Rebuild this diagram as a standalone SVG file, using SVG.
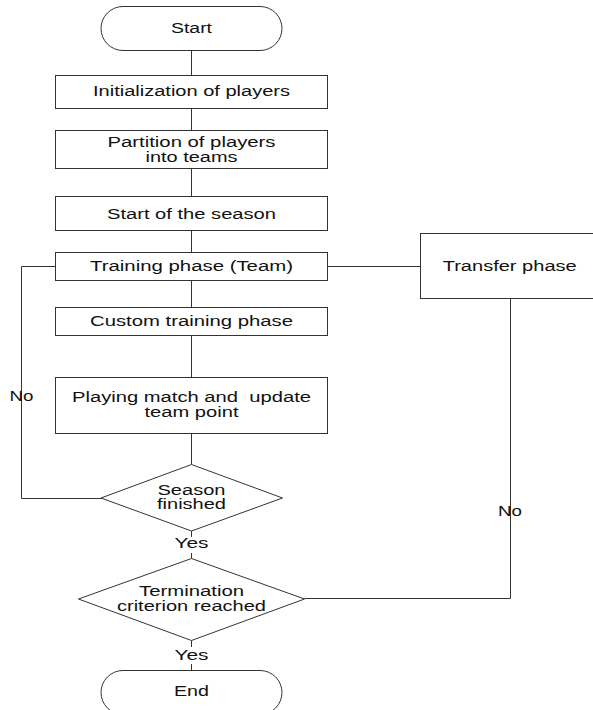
<svg xmlns="http://www.w3.org/2000/svg" width="593" height="710" viewBox="0 0 593 710">
<style>
.s{fill:#fff;stroke:#333;stroke-width:1}
.c{fill:none;stroke:#333;stroke-width:1}
text{font-family:"Liberation Sans",Arial,sans-serif;font-size:14px;fill:#111;text-anchor:middle}
</style>
<rect width="593" height="710" fill="#fff"/>
<g id="connectors">
<line class="c" x1="191.5" y1="50.5" x2="191.5" y2="75.5"/>
<line class="c" x1="191.5" y1="108.5" x2="191.5" y2="130.5"/>
<line class="c" x1="191.5" y1="168.5" x2="191.5" y2="196.5"/>
<line class="c" x1="191.5" y1="230.5" x2="191.5" y2="252.5"/>
<line class="c" x1="191.5" y1="280.5" x2="191.5" y2="307.5"/>
<line class="c" x1="191.5" y1="335.5" x2="191.5" y2="377.5"/>
<line class="c" x1="191.5" y1="433.5" x2="191.5" y2="464.5"/>
<line class="c" x1="191.5" y1="531" x2="191.5" y2="537"/>
<line class="c" x1="191.5" y1="553" x2="191.5" y2="558.5"/>
<line class="c" x1="191.5" y1="640.5" x2="191.5" y2="647"/>
<line class="c" x1="191.5" y1="664" x2="191.5" y2="670.5"/>
<polyline class="c" points="101,498.5 21.5,498.5 21.5,266.5 55.5,266.5"/>
<line class="c" x1="327.5" y1="266.5" x2="420.5" y2="266.5"/>
<polyline class="c" points="510.5,298.5 510.5,598.5 304.5,598.5"/>
<text x="21.5" y="401" textLength="24" lengthAdjust="spacingAndGlyphs">No</text>
<text x="510" y="516" textLength="24" lengthAdjust="spacingAndGlyphs">No</text>
<text x="191.5" y="548" textLength="34" lengthAdjust="spacingAndGlyphs">Yes</text>
<text x="191.5" y="659.5" textLength="34" lengthAdjust="spacingAndGlyphs">Yes</text>
</g>
<g id="start">
<rect class="s" x="101" y="6.5" width="181" height="44" rx="22" ry="22"/>
<text x="191.5" y="32.5" textLength="41" lengthAdjust="spacingAndGlyphs">Start</text>
</g>
<g id="init">
<rect class="s" x="55.5" y="75.5" width="272" height="33"/>
<text x="191.5" y="96" textLength="197" lengthAdjust="spacingAndGlyphs">Initialization of players</text>
</g>
<g id="partition">
<rect class="s" x="55.5" y="130.5" width="272" height="38"/>
<text x="191.5" y="147" textLength="168" lengthAdjust="spacingAndGlyphs">Partition of players</text>
<text x="191.5" y="162" textLength="92" lengthAdjust="spacingAndGlyphs">into teams</text>
</g>
<g id="season-start">
<rect class="s" x="55.5" y="196.5" width="272" height="34"/>
<text x="191.5" y="218.5" textLength="169" lengthAdjust="spacingAndGlyphs">Start of the season</text>
</g>
<g id="training">
<rect class="s" x="55.5" y="252.5" width="272" height="28"/>
<text x="191.5" y="271" textLength="203" lengthAdjust="spacingAndGlyphs">Training phase (Team)</text>
</g>
<g id="transfer">
<rect class="s" x="420.5" y="233.5" width="200" height="65"/>
<text x="509.7" y="270.5" textLength="134" lengthAdjust="spacingAndGlyphs">Transfer phase</text>
</g>
<g id="custom">
<rect class="s" x="55.5" y="307.5" width="272" height="28"/>
<text x="191.5" y="325.5" textLength="203" lengthAdjust="spacingAndGlyphs">Custom training phase</text>
</g>
<g id="playing">
<rect class="s" x="55.5" y="377.5" width="272" height="56"/>
<text x="191.5" y="402" textLength="239" lengthAdjust="spacingAndGlyphs" xml:space="preserve">Playing match and  update</text>
<text x="191.5" y="417" textLength="94" lengthAdjust="spacingAndGlyphs">team point</text>
</g>
<g id="season-finished">
<polygon class="s" points="191.5,464.5 282.5,498 191.5,531 101,498"/>
<text x="191.5" y="494.5" textLength="68" lengthAdjust="spacingAndGlyphs">Season</text>
<text x="191.5" y="509" textLength="69" lengthAdjust="spacingAndGlyphs">finished</text>
</g>
<g id="termination">
<polygon class="s" points="191.5,558.5 304.5,599 191.5,640.5 78.5,599"/>
<text x="191.5" y="596" textLength="105" lengthAdjust="spacingAndGlyphs">Termination</text>
<text x="191.5" y="611" textLength="149" lengthAdjust="spacingAndGlyphs">criterion reached</text>
</g>
<g id="end">
<rect class="s" x="101" y="670.5" width="181" height="44" rx="22" ry="22"/>
<text x="191.5" y="696" textLength="35" lengthAdjust="spacingAndGlyphs">End</text>
</g>
</svg>
